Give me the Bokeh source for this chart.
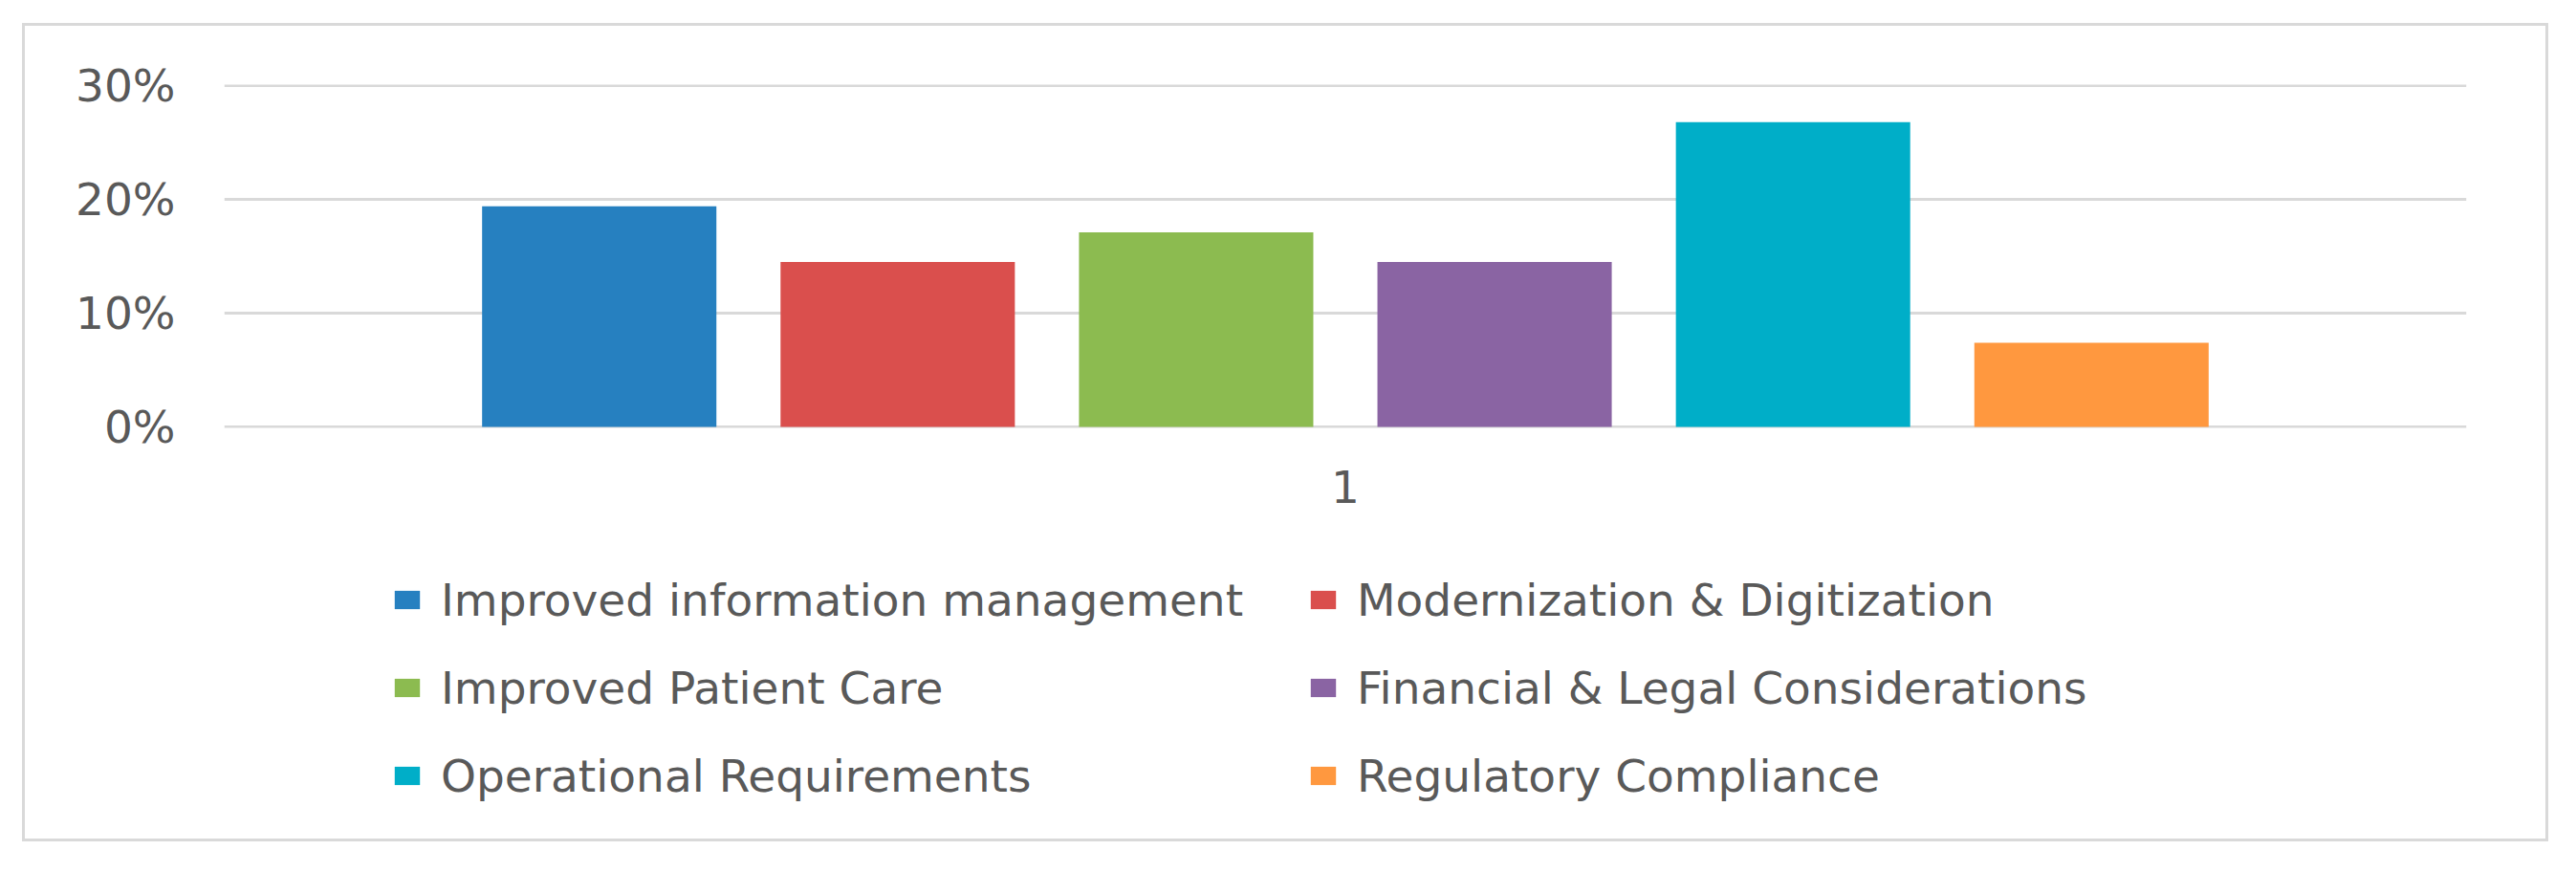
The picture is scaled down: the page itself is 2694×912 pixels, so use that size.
from bokeh.plotting import figure
from bokeh.layouts import column
from bokeh.models import (FactorRange, Range1d, Legend, LegendItem, NumeralTickFormatter,
                          ColumnDataSource, FixedTicker)
from bokeh.transform import dodge
from bokeh.embed import file_html
from bokeh.resources import INLINE

category = ["1"]
series = ["Improved information management", "Modernization & Digitization",
          "Improved Patient Care", "Financial & Legal Considerations",
          "Operational Requirements", "Regulatory Compliance"]
values = [0.194, 0.145, 0.171, 0.145, 0.268, 0.074]
colors = ["#2680C0", "#DA4F4D", "#8CBB50", "#8A64A3", "#00AEC8", "#FF983F"]
y_ticks = [0.0, 0.1, 0.2, 0.3]

FONT = "DejaVu Sans"
TXT = "#595959"
GRID = "#d9d9d9"
W = 2636

# ---- chart ----
p = figure(width=W, height=540, x_range=FactorRange(*category, range_padding=0),
           y_range=Range1d(-0.0009, 0.3009), output_backend="svg", toolbar_location=None,
           min_border_left=208, min_border_right=83, min_border_top=61, min_border_bottom=120)
p.outline_line_color = None
p.xgrid.grid_line_color = None
p.ygrid.grid_line_color = GRID
p.ygrid.grid_line_width = 3

p.yaxis.ticker = FixedTicker(ticks=y_ticks)
p.yaxis.formatter = NumeralTickFormatter(format="0%")
for ax in (p.xaxis[0], p.yaxis[0]):
    ax.axis_line_color = None
    ax.major_tick_line_color = None
    ax.minor_tick_line_color = None
    ax.major_tick_out = 0
    ax.major_tick_in = 0
    ax.minor_tick_out = 0
    ax.major_label_text_font = FONT
    ax.major_label_text_font_size = "47px"
    ax.major_label_text_color = TXT
p.yaxis.major_label_standoff = 51
p.xaxis.major_label_standoff = 44

pitch = 0.1331
bw = 0.1045
for i, (v, c) in enumerate(zip(values, colors)):
    src = ColumnDataSource(dict(x=category, top=[v]))
    p.vbar(x=dodge("x", (i - 2.5) * pitch, range=p.x_range), top="top", bottom=0,
           width=bw, source=src, fill_color=c, line_color=None)

# ---- legend panel (same series, bars kept out of its view) ----
lg = figure(width=W, height=310, x_range=FactorRange(*category), y_range=Range1d(10, 11),
            output_backend="svg", toolbar_location=None,
            min_border=0, min_border_left=0, min_border_right=0,
            min_border_top=0, min_border_bottom=0)
lg.axis.visible = False
lg.grid.visible = False
lg.outline_line_color = None
items = []
for name, v, c in zip(series, values, colors):
    src = ColumnDataSource(dict(x=category, top=[v]))
    r = lg.vbar(x="x", top="top", bottom=0, width=0.5, source=src,
                fill_color=c, line_color=None)
    items.append(LegendItem(label=name, renderers=[r]))

# legend fills column by column; order items so rows read left-to-right
items = items[0::2] + items[1::2]

legend = Legend(items=items, ncols=2, location=(175, 38),
                label_text_font=FONT, label_text_font_size="47px", label_text_color=TXT,
                glyph_width=33, glyph_height=24, label_height=56, label_width=870,
                label_standoff=19, spacing=36, padding=0, margin=0,
                border_line_color=None, background_fill_alpha=0)
lg.add_layout(legend, "center")

layout = column(p, lg, spacing=0)
layout.styles = {"border": "3px solid #d9d9d9", "transform": "translate(23px, 24px)",
                 "width": "fit-content"}

open("out.html", "w").write(file_html(layout, INLINE))
